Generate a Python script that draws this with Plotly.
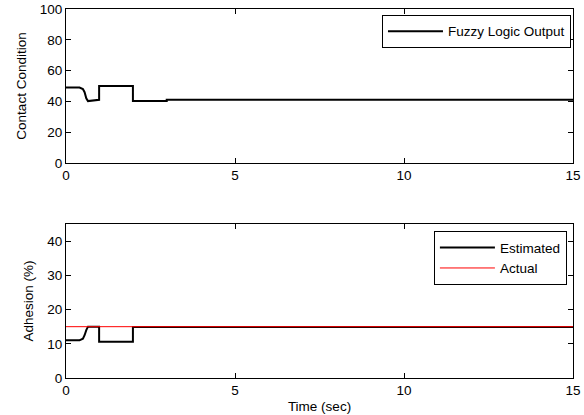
import plotly.graph_objects as go

# Top panel: fuzzy logic output
t_fuzzy = [0, 0.4, 0.5, 0.55, 0.6, 0.65, 0.98, 0.98, 1.98, 1.98, 2.98, 2.98, 15]
y_fuzzy = [49, 49, 48, 46, 42, 40.2, 41, 50, 50, 40.3, 40.3, 41, 41]

# Bottom panel: adhesion
t_est = [0, 0.4, 0.5, 0.55, 0.6, 0.65, 0.98, 0.98, 1.98, 1.98, 15]
y_est = [11, 11, 11.5, 12.5, 14, 15, 15, 10.6, 10.6, 14.9, 14.9]
t_act = [0, 15]
y_act = [15, 15]

x_ticks = [0, 5, 10, 15]
top_yticks = [0, 20, 40, 60, 80, 100]
bot_yticks = [0, 10, 20, 30, 40]

FONT = "Liberation Sans, Arial, sans-serif"
FS = 13.5

fig = go.Figure()
fig.add_trace(go.Scatter(x=t_fuzzy, y=y_fuzzy, mode="lines", name="Fuzzy Logic Output",
                         line=dict(color="black", width=2), xaxis="x", yaxis="y",
                         legend="legend", showlegend=True))
fig.add_trace(go.Scatter(x=t_est, y=y_est, mode="lines", name="Estimated",
                         line=dict(color="black", width=2), xaxis="x2", yaxis="y2",
                         legend="legend2", showlegend=True))
fig.add_trace(go.Scatter(x=t_act, y=y_act, mode="lines", name="Actual",
                         line=dict(color="#ff0000", width=1), xaxis="x2", yaxis="y2",
                         legend="legend2", showlegend=True))

axis_common = dict(showline=True, linecolor="black", linewidth=1, mirror="ticks",
                   ticks="inside", ticklen=5, tickcolor="black", showgrid=False,
                   zeroline=False, automargin=False,
                   tickfont=dict(family=FONT, size=FS, color="black"))

fig.update_layout(
    width=584, height=415,
    margin=dict(l=66, r=11, t=9, b=37),
    paper_bgcolor="white", plot_bgcolor="white",
    showlegend=True,
    font=dict(family=FONT, size=FS, color="black"),
    xaxis=dict(domain=[0, 1], range=[0, 15], tickvals=x_ticks, anchor="y", **axis_common),
    yaxis=dict(domain=[0.5827, 1], range=[0, 100], tickvals=top_yticks, anchor="x",
               title=dict(text="Contact Condition", font=dict(family=FONT, size=FS), standoff=10),
               **axis_common),
    xaxis2=dict(domain=[0, 1], range=[0, 15], tickvals=x_ticks, anchor="y2",
                title=dict(text="Time (sec)", font=dict(family=FONT, size=FS), standoff=4),
                **axis_common),
    yaxis2=dict(domain=[0, 0.4173], range=[0, 45], tickvals=bot_yticks, anchor="x2",
                title=dict(text="Adhesion (%)", font=dict(family=FONT, size=FS), standoff=10),
                **axis_common),
    legend=dict(x=0.996, y=0.984, xanchor="right", yanchor="top", bgcolor="white",
                bordercolor="black", borderwidth=1, font=dict(family=FONT, size=FS),
                tracegroupgap=0, itemwidth=55),
    legend2=dict(x=0.988, y=0.398, xanchor="right", yanchor="top", bgcolor="white",
                 bordercolor="black", borderwidth=1, font=dict(family=FONT, size=FS),
                 tracegroupgap=0, itemwidth=55),
)

fig.write_html("out.html", config={"displayModeBar": False},
               post_script="document.body.style.margin='0';document.body.style.overflow='hidden';")
